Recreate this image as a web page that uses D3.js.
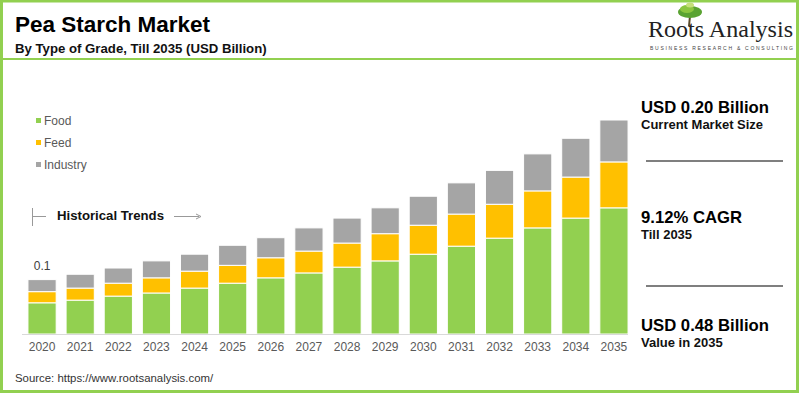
<!DOCTYPE html>
<head>
  <meta charset="utf-8">
  <title>Pea Starch Market</title>
  <script src="https://d3js.org/d3.v7.min.js"></script>
  <style>
    body { margin: 0; background: #fff; }
    text { font-family: "Liberation Sans", Arial, sans-serif; }
  </style>
</head>
<body>
<svg width="800" height="393"></svg>

<script type="text/javascript">

// values (USD billion)
var years = ["2020","2021","2022","2023","2024","2025","2026","2027",
             "2028","2029","2030","2031","2032","2033","2034","2035"];
var food     = [0.070,0.076,0.085,0.092,0.103,0.114,0.126,0.137,0.150,0.164,0.179,0.197,0.215,0.238,0.260,0.283];
var feed     = [0.025,0.027,0.029,0.034,0.038,0.040,0.045,0.049,0.054,0.061,0.065,0.072,0.076,0.083,0.092,0.103];
var industry = [0.027,0.031,0.034,0.038,0.038,0.045,0.045,0.052,0.056,0.058,0.065,0.070,0.076,0.083,0.087,0.094];
var seriesNames = ["Food", "Feed", "Industry"];
var colors = ["#92d050", "#ffc000", "#a5a5a5"];

var svg = d3.select("svg");
var green = "#92d050";

// frame
svg.append("rect").attr("x", 1.5).attr("y", 1).attr("width", 796).attr("height", 390.5)
  .attr("fill", "none").attr("stroke", green).attr("stroke-width", 3);
svg.append("line").attr("x1", 2).attr("x2", 797).attr("y1", 59).attr("y2", 59)
  .attr("stroke", green).attr("stroke-width", 2);

// titles
svg.append("text").attr("x", 15).attr("y", 32).text("Pea Starch Market")
  .style("font-size", "22.5px").style("font-weight", "bold").attr("fill", "#000");
svg.append("text").attr("x", 15).attr("y", 53).text("By Type of Grade, Till 2035 (USD Billion)")
  .style("font-size", "13.2px").style("font-weight", "bold").attr("fill", "#111");

// logo
var logo = svg.append("g");
logo.append("path").attr("d", "M689,26 L690,16 L688,12 M690,16 L693,12").attr("stroke", "#5a4a2a")
  .attr("stroke-width", 2).attr("fill", "none");
logo.append("ellipse").attr("cx", 690).attr("cy", 12).attr("rx", 12).attr("ry", 6).attr("fill", "#5aa332");
logo.append("ellipse").attr("cx", 687).attr("cy", 9).attr("rx", 7).attr("ry", 4).attr("fill", "#8cc63f");
logo.append("ellipse").attr("cx", 690).attr("cy", 5).attr("rx", 4).attr("ry", 2.5).attr("fill", "#c5e07a");
logo.append("text").attr("x", 648).attr("y", 37).text("Roots Analysis")
  .attr("textLength", 145).attr("lengthAdjust", "spacingAndGlyphs")
  .style("font-family", "'Liberation Serif', 'DejaVu Serif', serif").style("font-size", "23px").attr("fill", "#222");
logo.append("text").attr("x", 650).attr("y", 50).text("BUSINESS RESEARCH & CONSULTING")
  .attr("textLength", 143).attr("lengthAdjust", "spacing")
  .style("font-size", "5px").attr("fill", "#444");

// scales
var baseY = 334;
var x = d3.scaleBand().domain(years).range([23, 633]).paddingInner(0.26).paddingOuter(0.13);
var y = d3.scaleLinear().domain([0, 0.48]).range([baseY, 120]);

var rows = years.map(function(yr, i) {
  return { year: yr, Food: food[i], Feed: feed[i], Industry: industry[i] };
});
var stacked = d3.stack().keys(seriesNames)(rows);

svg.append("g").selectAll("g")
  .data(stacked)
  .enter().append("g")
    .attr("fill", function(d, i) { return colors[i]; })
  .selectAll("rect")
  .data(function(d) { return d; })
  .enter().append("rect")
    .attr("x", function(d) { return x(d.data.year); })
    .attr("y", function(d) { return y(d[1]); })
    .attr("width", x.bandwidth())
    .attr("height", function(d) { return y(d[0]) - y(d[1]); })
    .attr("stroke", "#fff")
    .attr("stroke-width", 1);

// x axis
var xAxis = svg.append("g").attr("transform", "translate(0," + baseY + ")")
  .call(d3.axisBottom(x).tickSize(0).tickPadding(8));
xAxis.select(".domain").remove();
xAxis.selectAll("text").style("font-size", "12px").attr("fill", "#595959")
  .style("font-family", "'Liberation Sans', Arial, sans-serif");
svg.append("line").attr("x1", 22).attr("x2", 628).attr("y1", baseY + 0.5).attr("y2", baseY + 0.5)
  .attr("stroke", "#d9d9d9").attr("stroke-width", 1);

// first bar label
svg.append("text")
  .attr("x", x(years[0]) + x.bandwidth() / 2)
  .attr("y", y(food[0] + feed[0] + industry[0]) - 10)
  .attr("text-anchor", "middle").text("0.1")
  .style("font-size", "12px").attr("fill", "#404040");

// legend
var legend = svg.append("g").selectAll("g")
  .data(seriesNames)
  .enter().append("g")
    .attr("transform", function(d, i) { return "translate(36," + (121 + i * 22) + ")"; });
legend.append("rect").attr("x", 0).attr("y", -3).attr("width", 5).attr("height", 5)
  .attr("fill", function(d, i) { return colors[i]; });
legend.append("text").attr("x", 8).attr("y", 4).text(function(d) { return d; })
  .style("font-size", "12px").attr("fill", "#595959");

// historical trends marker
svg.append("line").attr("x1", 32.5).attr("x2", 32.5).attr("y1", 208).attr("y2", 226)
  .attr("stroke", "#999").attr("stroke-width", 1);
svg.append("line").attr("x1", 33).attr("x2", 46).attr("y1", 216.5).attr("y2", 216.5)
  .attr("stroke", "#999").attr("stroke-width", 1);
svg.append("text").attr("x", 57).attr("y", 220).text("Historical Trends")
  .style("font-size", "13.2px").style("font-weight", "bold").attr("fill", "#111");
svg.append("line").attr("x1", 174).attr("x2", 199).attr("y1", 216.5).attr("y2", 216.5)
  .attr("stroke", "#999").attr("stroke-width", 1);
svg.append("path").attr("d", "M196,214 L201,216.5 L196,219").attr("fill", "none")
  .attr("stroke", "#999").attr("stroke-width", 1);

// right panel
var panel = [
  { big: "USD 0.20 Billion", small: "Current Market Size", y: 113 },
  { big: "9.12% CAGR", small: "Till 2035", y: 223 },
  { big: "USD 0.48 Billion", small: "Value in 2035", y: 331 }
];
panel.forEach(function(p) {
  svg.append("text").attr("x", 641).attr("y", p.y).text(p.big)
    .style("font-size", "16.7px").style("font-weight", "bold").attr("fill", "#000");
  svg.append("text").attr("x", 641).attr("y", p.y + 16).text(p.small)
    .style("font-size", "13px").style("font-weight", "bold").attr("fill", "#111");
});
[161, 286].forEach(function(ly) {
  svg.append("line").attr("x1", 646).attr("x2", 783).attr("y1", ly).attr("y2", ly)
    .attr("stroke", "#7f7f7f").attr("stroke-width", 2);
});

// source
svg.append("text").attr("x", 15).attr("y", 382).text("Source: https://www.rootsanalysis.com/")
  .style("font-size", "11.4px").attr("fill", "#333");

</script>
</body>
</html>
